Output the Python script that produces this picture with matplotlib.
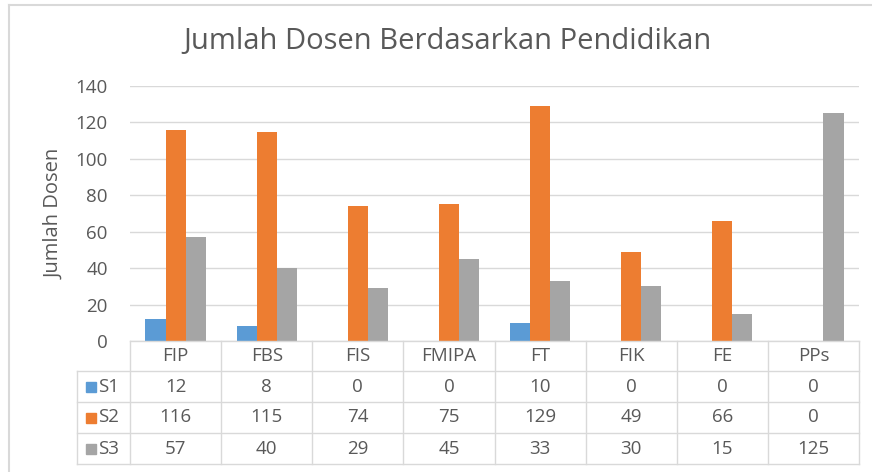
from matplotlib import pyplot as plt
import numpy as np

# Jumlah dosen per fakultas berdasarkan pendidikan
fakultas = ['FIP', 'FBS', 'FIS', 'FMIPA', 'FT', 'FIK', 'FE', 'PPs']
s1 = [12, 8, 0, 0, 10, 0, 0, 0]
s2 = [116, 115, 74, 75, 129, 49, 66, 0]
s3 = [57, 40, 29, 45, 33, 30, 15, 125]
series_names = ['S1', 'S2', 'S3']
colors = ['#5B9BD5', '#ED7D31', '#A5A5A5']

text_color = '#595959'
grid_color = '#D9D9D9'
fs = 13.5
plt.rcParams['font.family'] = ['Open Sans', 'DejaVu Sans']

fig = plt.figure(figsize=(8.72, 4.72), dpi=100)
W, H = 872, 472


def fx(px):
    return px / W


def fy(py):
    return 1 - py / H


# plot area in pixels
left, right, top, bottom = 130, 859, 86, 341
ax = fig.add_axes([fx(left), fy(bottom), fx(right - left), (bottom - top) / H])

x = np.arange(len(fakultas))
width = 0.22
for i, (vals, c) in enumerate(zip([s1, s2, s3], colors)):
    ax.bar(x + (i - 1) * width, vals, width=width, color=c, zorder=3)

ax.set_xlim(-0.5, len(fakultas) - 0.5)
ax.set_ylim(0, 140)
ax.set_yticks(range(0, 141, 20))
ax.yaxis.grid(True, color=grid_color, linewidth=1, zorder=0)
ax.set_xticks([])
for s in ax.spines.values():
    s.set_visible(False)
ax.tick_params(axis='y', length=0, labelsize=fs, labelcolor=text_color, pad=16)
ax.set_ylabel('Jumlah Dosen', fontsize=14.5, color=text_color, labelpad=8)

# data table below the axis
row_y = [341, 371, 402, 433, 464]
col_x = [left + i * (right - left) / len(fakultas) for i in range(len(fakultas) + 1)]
label_left = 77
lw = 1

fig.add_artist(plt.Line2D([fx(left), fx(right)], [fy(row_y[0])] * 2, color=grid_color, lw=lw))
for yy in row_y[1:]:
    fig.add_artist(plt.Line2D([fx(label_left), fx(right)], [fy(yy)] * 2, color=grid_color, lw=lw))
for xx in col_x:
    fig.add_artist(plt.Line2D([fx(xx)] * 2, [fy(row_y[0]), fy(row_y[-1])], color=grid_color, lw=lw))
fig.add_artist(plt.Line2D([fx(label_left)] * 2, [fy(row_y[1]), fy(row_y[-1])], color=grid_color, lw=lw))

for j, name in enumerate(fakultas):
    cx = (col_x[j] + col_x[j + 1]) / 2
    fig.text(fx(cx), fy((row_y[0] + row_y[1]) / 2), name, ha='center', va='center',
             fontsize=fs, color=text_color)
    for r, vals in enumerate([s1, s2, s3]):
        cy = (row_y[r + 1] + row_y[r + 2]) / 2
        fig.text(fx(cx), fy(cy), str(vals[j]), ha='center', va='center',
                 fontsize=fs, color=text_color)

for r, (name, c) in enumerate(zip(series_names, colors)):
    cy = (row_y[r + 1] + row_y[r + 2]) / 2
    fig.add_artist(plt.Rectangle((fx(86), fy(cy + 5)), fx(10), 10 / H, color=c))
    fig.text(fx(98), fy(cy), name, ha='left', va='center', fontsize=fs, color=text_color)

# title
fig.text(fx(447), fy(42), 'Jumlah Dosen Berdasarkan Pendidikan', ha='center', va='center',
         fontsize=21, color=text_color)

# chart border (top and left visible)
fig.add_artist(plt.Line2D([fx(9), 1], [fy(5)] * 2, color='#D9D9D9', lw=1.5))
fig.add_artist(plt.Line2D([fx(9)] * 2, [fy(5), 0], color='#D9D9D9', lw=1.5))

fig.savefig('out.png', dpi=100)
